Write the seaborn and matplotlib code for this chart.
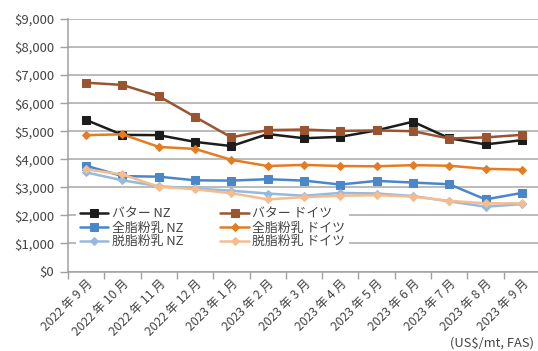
import matplotlib
matplotlib.use("Agg")
import matplotlib.pyplot as plt
import seaborn as sns
import numpy as np
from matplotlib.ticker import FixedLocator

months = ["2022 年 9 月", "2022 年 10 月", "2022 年 11 月", "2022 年 12 月",
          "2023 年 1 月", "2023 年 2 月", "2023 年 3 月", "2023 年 4 月",
          "2023 年 5 月", "2023 年 6 月", "2023 年 7 月", "2023 年 8 月",
          "2023 年 9 月"]

butter_nz = [5400, 4870, 4860, 4620, 4470, 4900, 4750, 4800, 5030, 5340, 4750, 4530, 4680]
butter_de = [6730, 6650, 6250, 5510, 4780, 5040, 5060, 5010, 5030, 5000, 4740, 4780, 4870]
wmp_nz = [3770, 3400, 3380, 3250, 3240, 3290, 3240, 3100, 3230, 3170, 3110, 2570, 2800]
wmp_de = [4860, 4890, 4440, 4370, 3980, 3760, 3800, 3760, 3750, 3790, 3770, 3660, 3630]
smp_nz = [3530, 3250, 3040, 2960, 2880, 2780, 2700, 2800, 2780, 2690, 2500, 2310, 2400]
smp_de = [3640, 3460, 3020, 2930, 2790, 2570, 2650, 2700, 2720, 2670, 2520, 2430, 2430]

y_ticks = [0, 1000, 2000, 3000, 4000, 5000, 6000, 7000, 8000, 9000]
y_tick_labels = ["$0", "$1,000", "$2,000", "$3,000", "$4,000", "$5,000",
                 "$6,000", "$7,000", "$8,000", "$9,000"]

series = [
    ("バター NZ", butter_nz, "#1c1c1c", "s", 6),
    ("全脂粉乳 NZ", wmp_nz, "#4a86c8", "s", 6),
    ("脱脂粉乳 NZ", smp_nz, "#95b9e0", "D", 3.8),
    ("バター ドイツ", butter_de, "#9a5530", "s", 6),
    ("全脂粉乳 ドイツ", wmp_de, "#e47c22", "D", 3.8),
    ("脱脂粉乳 ドイツ", smp_de, "#f5bc8e", "D", 3.8),
]

sns.set_style("white")
plt.rcParams["font.family"] = ["Noto Sans CJK JP", "DejaVu Sans"]
text_color = "#444444"

fig = plt.figure(figsize=(5.38, 3.51), dpi=100)
ax = fig.add_axes([68 / 538, 1 - 271.5 / 351, 472 / 538, (271.5 - 19) / 351])

handles = []
for label, vals, color, mk, ms in series:
    sns.lineplot(x=months, y=vals, ax=ax, color=color, marker=mk,
                 markersize=ms, markeredgecolor=color, linewidth=1.8,
                 label=label, legend=False, sort=False)
    handles.append(ax.lines[-1])

ax.set_xlim(-0.5, len(months) - 0.5)
ax.set_ylim(0, 9000)
ax.set_yticks(y_ticks)
ax.set_yticklabels(y_tick_labels)
ax.set_xlabel("")
ax.set_ylabel("")

ax.grid(axis="y", color="#a8a8a8", linewidth=1.1)
ax.grid(axis="x", visible=False)
ax.set_axisbelow(True)

for s in ["top", "right"]:
    ax.spines[s].set_visible(False)
for s in ["left", "bottom"]:
    ax.spines[s].set_color("#a0a0a0")
    ax.spines[s].set_linewidth(1.1)

ax.tick_params(axis="y", length=6, width=1, color="#a0a0a0", pad=4,
               labelsize=9.5, labelcolor=text_color, left=True)
ax.tick_params(axis="x", which="major", length=0, pad=4,
               labelsize=8.8, labelcolor=text_color, bottom=True)
ax.xaxis.set_minor_locator(FixedLocator(np.arange(-0.5, len(months), 1.0)))
ax.tick_params(axis="x", which="minor", length=5, width=1, color="#a0a0a0", bottom=True)
for t in ax.get_xticklabels():
    t.set_rotation(45)
    t.set_ha("right")
    t.set_rotation_mode("anchor")

leg = ax.legend(handles=handles, labels=[s[0] for s in series], ncol=2,
                loc="upper left", bbox_to_anchor=(76 / 538, 1 - 204 / 351),
                bbox_transform=fig.transFigure, frameon=True, fontsize=9.3,
                handlelength=2.2, handletextpad=0.25, labelspacing=0.05,
                columnspacing=2.9, borderpad=0.3, borderaxespad=0)
leg.get_frame().set_facecolor("white")
leg.get_frame().set_edgecolor("none")
leg.get_frame().set_alpha(1)
for t in leg.get_texts():
    t.set_color(text_color)

fig.text(534 / 538, 1 - 337 / 351, "(US$/mt, FAS)", fontsize=9.3,
         color=text_color, ha="right", va="top")

fig.savefig("out.png", dpi=100, facecolor="white")
